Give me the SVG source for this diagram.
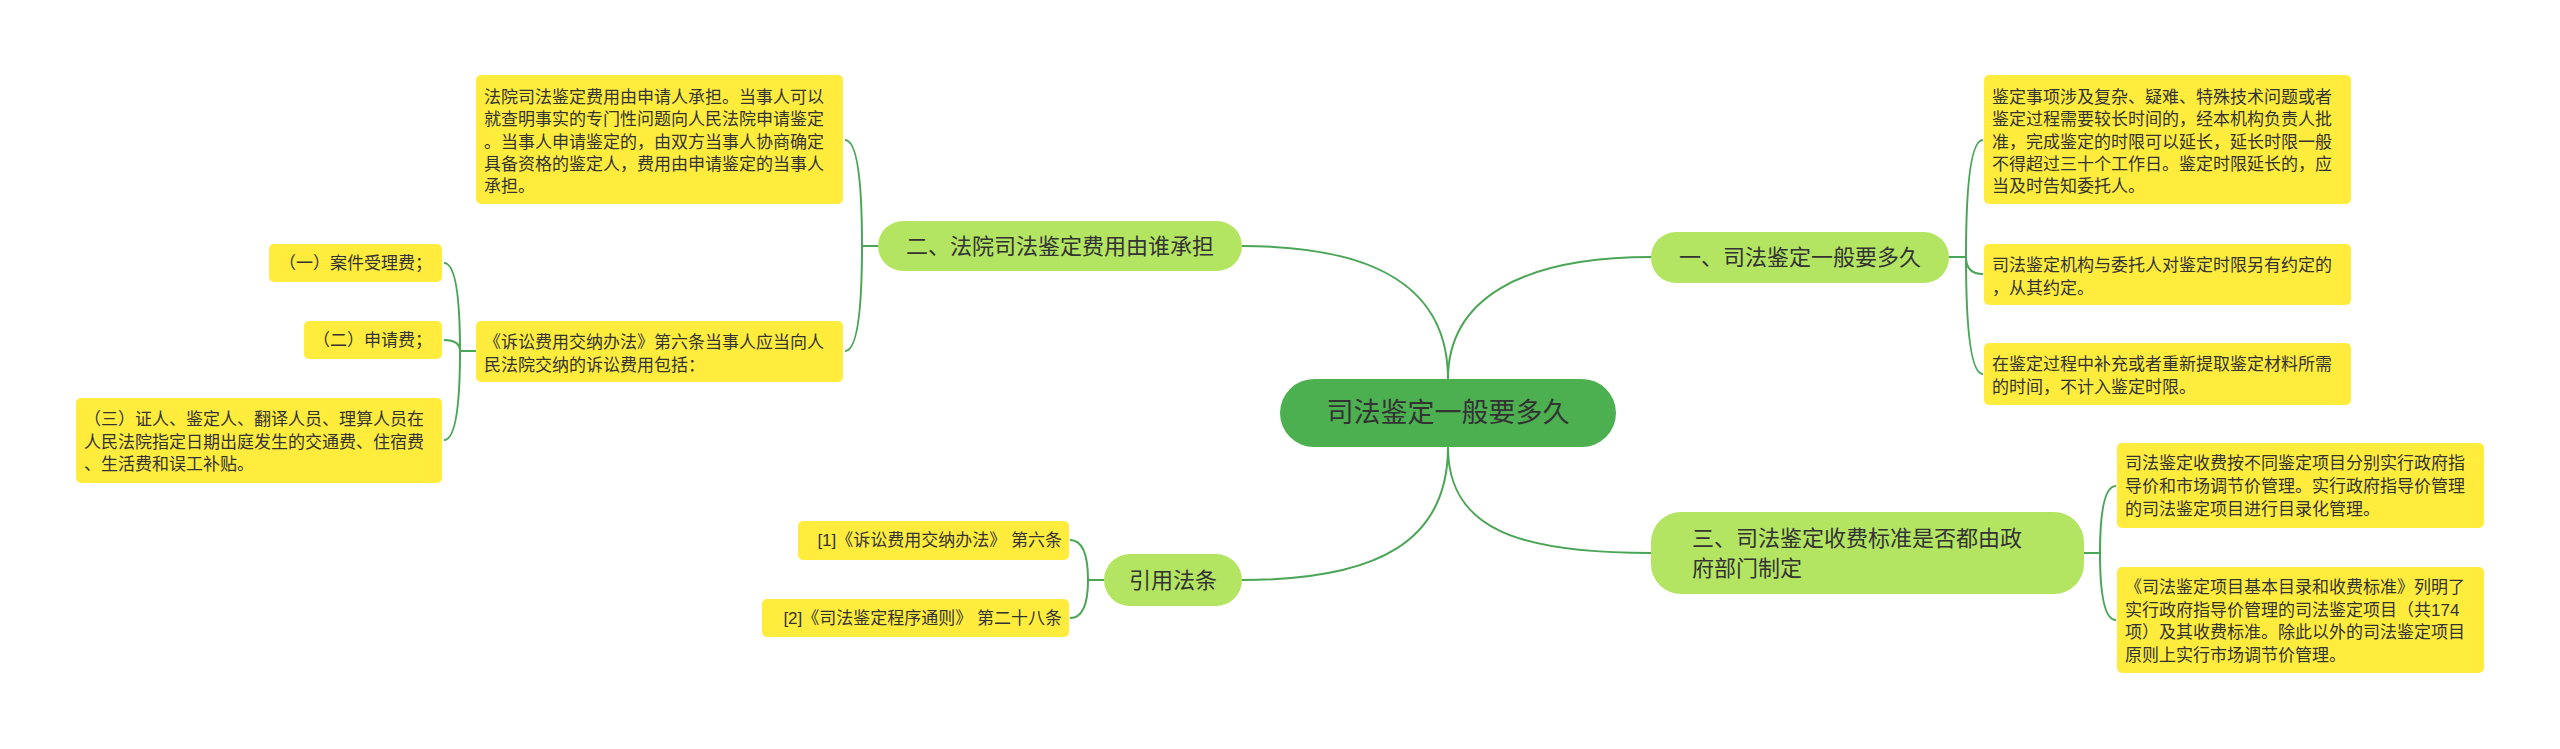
<svg xmlns="http://www.w3.org/2000/svg" width="2560" height="749" viewBox="0 0 2560 749">
<style>
.y{fill:#ffec3d}
.g{fill:#b4e562}
.t{font-family:"Liberation Sans","Noto Sans CJK SC",sans-serif;font-size:17px;fill:#333}
.m{font-family:"Liberation Sans","Noto Sans CJK SC",sans-serif;font-size:22px;fill:#333}
.c{fill:none;stroke:#4aa557;stroke-width:2}
</style>
<rect width="2560" height="749" fill="#fff"/>
<g id="connectors">
<path class="c" d="M1448 379 C1448 290 1380 246 1242 246"/>
<path class="c" d="M1448 379 C1448 300 1520 257 1651 257"/>
<path class="c" d="M1448 447 C1448 530 1520 553 1651 553"/>
<path class="c" d="M1448 447 C1448 540 1380 580 1242 580"/>
<path class="c" d="M878 246 H862 M862 246 Q862 140 845 140 M862 246 Q862 351 845 351"/>
<path class="c" d="M476 351 H460 M460 351 Q460 263 444 263 M460 351 Q460 340 444 340 M460 351 Q460 440 444 440"/>
<path class="c" d="M1949 257 H1966 M1966 257 Q1966 140 1983 140 M1966 257 Q1966 274 1983 274 M1966 257 Q1966 374 1983 374"/>
<path class="c" d="M2084 553 H2100 M2100 553 Q2100 486 2116 486 M2100 553 Q2100 620 2116 620"/>
<path class="c" d="M1104 580 H1088 M1088 580 Q1088 540 1070 540 M1088 580 Q1088 618 1070 618"/>
</g>
<g id="center"><rect x="1280" y="379" width="336" height="68" rx="34" fill="#4caf50"/><text x="1448" y="422" text-anchor="middle" font-family="Liberation Sans,Noto Sans CJK SC,sans-serif" font-size="27" fill="#333">司法鉴定一般要多久</text></g>
<g id="b2"><rect class="g" x="878" y="221" width="364" height="50" rx="25"/><text class="m" x="1060" y="254" text-anchor="middle">二、法院司法鉴定费用由谁承担</text></g>
<g id="b1"><rect class="g" x="1651" y="232" width="298" height="51" rx="25"/><text class="m" x="1800" y="265" text-anchor="middle">一、司法鉴定一般要多久</text></g>
<g id="b3"><rect class="g" x="1651" y="512" width="433" height="82" rx="30"/><text class="m" x="1692" y="546">三、司法鉴定收费标准是否都由政</text><text class="m" x="1692" y="576">府部门制定</text></g>
<g id="b4"><rect class="g" x="1104" y="554" width="138" height="52" rx="26"/><text class="m" x="1173" y="588" text-anchor="middle">引用法条</text></g>
<g id="n21"><rect class="y" x="476" y="75" width="367" height="129" rx="5"/><text class="t" x="484"><tspan x="484" y="103">法院司法鉴定费用由申请人承担。当事人可以</tspan><tspan x="484" y="125">就查明事实的专门性问题向人民法院申请鉴定</tspan><tspan x="484" y="148">。当事人申请鉴定的，由双方当事人协商确定</tspan><tspan x="484" y="170">具备资格的鉴定人，费用由申请鉴定的当事人</tspan><tspan x="484" y="192">承担。</tspan></text></g>
<g id="n22"><rect class="y" x="476" y="321" width="367" height="61" rx="5"/><text class="t"><tspan x="484" y="348">《诉讼费用交纳办法》第六条当事人应当向人</tspan><tspan x="484" y="371">民法院交纳的诉讼费用包括：</tspan></text></g>
<g id="n221"><rect class="y" x="269" y="244" width="173" height="38" rx="5"/><text class="t" x="432" y="269" text-anchor="end">（一）案件受理费；</text></g>
<g id="n222"><rect class="y" x="304" y="321" width="138" height="38" rx="5"/><text class="t" x="432" y="346" text-anchor="end">（二）申请费；</text></g>
<g id="n223"><rect class="y" x="76" y="398" width="366" height="85" rx="5"/><text class="t"><tspan x="84" y="425">（三）证人、鉴定人、翻译人员、理算人员在</tspan><tspan x="84" y="448">人民法院指定日期出庭发生的交通费、住宿费</tspan><tspan x="84" y="470">、生活费和误工补贴。</tspan></text></g>
<g id="n11"><rect class="y" x="1984" y="75" width="367" height="129" rx="5"/><text class="t"><tspan x="1992" y="103">鉴定事项涉及复杂、疑难、特殊技术问题或者</tspan><tspan x="1992" y="125">鉴定过程需要较长时间的，经本机构负责人批</tspan><tspan x="1992" y="148">准，完成鉴定的时限可以延长，延长时限一般</tspan><tspan x="1992" y="170">不得超过三十个工作日。鉴定时限延长的，应</tspan><tspan x="1992" y="192">当及时告知委托人。</tspan></text></g>
<g id="n12"><rect class="y" x="1984" y="244" width="367" height="61" rx="5"/><text class="t"><tspan x="1992" y="271">司法鉴定机构与委托人对鉴定时限另有约定的</tspan><tspan x="1992" y="294">，从其约定。</tspan></text></g>
<g id="n13"><rect class="y" x="1984" y="343" width="367" height="62" rx="5"/><text class="t"><tspan x="1992" y="370">在鉴定过程中补充或者重新提取鉴定材料所需</tspan><tspan x="1992" y="393">的时间，不计入鉴定时限。</tspan></text></g>
<g id="n31"><rect class="y" x="2117" y="443" width="367" height="85" rx="5"/><text class="t"><tspan x="2125" y="469">司法鉴定收费按不同鉴定项目分别实行政府指</tspan><tspan x="2125" y="492">导价和市场调节价管理。实行政府指导价管理</tspan><tspan x="2125" y="515">的司法鉴定项目进行目录化管理。</tspan></text></g>
<g id="n32"><rect class="y" x="2117" y="567" width="367" height="106" rx="5"/><text class="t"><tspan x="2125" y="593">《司法鉴定项目基本目录和收费标准》列明了</tspan><tspan x="2125" y="616">实行政府指导价管理的司法鉴定项目（共174</tspan><tspan x="2125" y="638">项）及其收费标准。除此以外的司法鉴定项目</tspan><tspan x="2125" y="661">原则上实行市场调节价管理。</tspan></text></g>
<g id="n41"><rect class="y" x="798" y="521" width="271" height="39" rx="5"/><text class="t" x="1062" y="546" text-anchor="end">[1]《诉讼费用交纳办法》 第六条</text></g>
<g id="n42"><rect class="y" x="762" y="599" width="307" height="38" rx="5"/><text class="t" x="1062" y="624" text-anchor="end">[2]《司法鉴定程序通则》 第二十八条</text></g>
</svg>
